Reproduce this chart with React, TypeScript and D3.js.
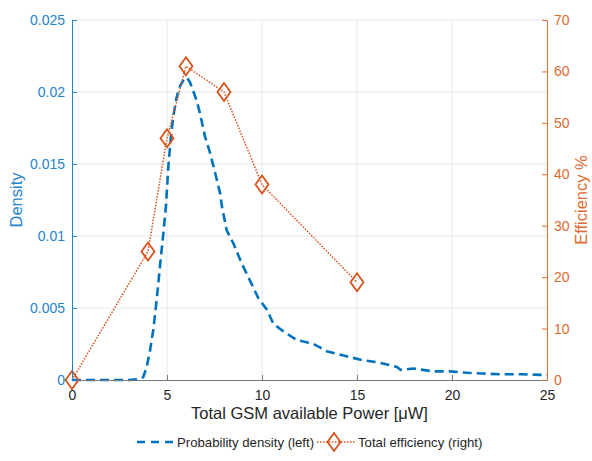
import React, { useRef, useEffect } from 'react';
import * as d3 from 'd3';

// Probability density of available power (left axis)
const densityX = [0, 1, 2, 3, 3.5, 3.75, 3.93, 4.1, 4.28, 4.46, 4.63, 4.81, 4.95, 5.07, 5.2, 5.33, 5.5, 5.68, 5.9, 6.05, 6.2, 6.4, 6.56, 6.74, 7.0, 7.26, 7.53, 7.79, 7.9, 8.14, 8.49, 8.93, 9.37, 9.8, 10.25, 10.6, 11.1, 11.8, 12.4, 12.7, 13.0, 13.4, 14.3, 15.2, 16.2, 17.1, 17.3, 17.95, 19.0, 19.9, 20.8, 21.6, 22.5, 23.7, 24.8, 25];
const densityY = [0, 0, 0, 0, 0.00005, 0.0002, 0.0009, 0.002, 0.0035, 0.0056, 0.0079, 0.0102, 0.0122, 0.0148, 0.0168, 0.0183, 0.0196, 0.0204, 0.0209, 0.0210, 0.0207, 0.0200, 0.0194, 0.0185, 0.0169, 0.0158, 0.0144, 0.0130, 0.0120, 0.0104, 0.0095, 0.0081, 0.0069, 0.0057, 0.0049, 0.0039, 0.0034, 0.0028, 0.0026, 0.0025, 0.0023, 0.0020, 0.0017, 0.0014, 0.0012, 0.0009, 0.0007, 0.0008, 0.0006, 0.0006, 0.0005, 0.00045, 0.0004, 0.0004, 0.00035, 0.00035];

// Total efficiency (right axis)
const effX = [0, 4, 5, 6, 8, 10, 15];
const effY = [0, 25, 47, 61, 56, 38, 19];

const xTicks = [0, 5, 10, 15, 20, 25];
const leftTicks = [0, 0.005, 0.01, 0.015, 0.02, 0.025];
const rightTicks = [0, 10, 20, 30, 40, 50, 60, 70];

const W = 592;
const H = 461;
const BLUE_AXIS = '#1f84cc';
const BLUE_LINE = '#0072BD';
const ORANGE = '#D95319';
const ORANGE_AXIS = '#e06a30';
const TEXT = '#262626';
const FONT = '"Liberation Sans", Arial, sans-serif';

const App = () => {
    const svgRef = useRef<SVGSVGElement | null>(null);

    useEffect(() => {
        const svg = d3.select(svgRef.current);
        svg.selectAll('*').remove();

        const left = 72, right = 547, top = 20, bottom = 380;

        const x = d3.scaleLinear().domain([0, 25]).range([left, right]);
        const yL = d3.scaleLinear().domain([0, 0.025]).range([bottom, top]);
        const yR = d3.scaleLinear().domain([0, 70]).range([bottom, top]);

        // grid
        const grid = svg.append('g').attr('stroke', '#e3e9f0').attr('stroke-width', 1);
        xTicks.slice(1, -1).forEach(t => {
            grid.append('line').attr('x1', x(t)).attr('x2', x(t)).attr('y1', top).attr('y2', bottom);
        });
        leftTicks.slice(1).forEach(t => {
            grid.append('line').attr('x1', left).attr('x2', right).attr('y1', yL(t)).attr('y2', yL(t));
        });

        // density curve
        const densityLine = d3.line<number>()
            .x((_, i) => x(densityX[i]))
            .y(d => yL(d));
        svg.append('path')
            .attr('d', densityLine(densityY))
            .attr('fill', 'none')
            .attr('stroke', BLUE_LINE)
            .attr('stroke-width', 2.6)
            .attr('stroke-dasharray', '9,5');

        // efficiency curve
        const effLine = d3.line<number>()
            .x((_, i) => x(effX[i]))
            .y(d => yR(d));
        svg.append('path')
            .attr('d', effLine(effY))
            .attr('fill', 'none')
            .attr('stroke', ORANGE)
            .attr('stroke-width', 1.5)
            .attr('stroke-dasharray', '1.5,1.5');

        const diamond = (cx: number, cy: number) =>
            `M${cx},${cy - 9}L${cx + 6.5},${cy}L${cx},${cy + 9}L${cx - 6.5},${cy}Z`;
        effY.forEach((v, i) => {
            svg.append('path')
                .attr('d', diamond(x(effX[i]), yR(v)))
                .attr('fill', 'none')
                .attr('stroke', ORANGE)
                .attr('stroke-width', 1.8);
        });

        // x axis
        const xAxis = svg.append('g')
            .attr('transform', `translate(0,${bottom})`)
            .call(d3.axisBottom(x).tickValues(xTicks).tickSize(-5).tickPadding(10).tickFormat(d3.format('d')));
        xAxis.select('.domain').attr('stroke', '#7a7a7a');
        xAxis.selectAll('line').attr('stroke', '#7a7a7a');
        xAxis.selectAll('text').attr('fill', TEXT).style('font-size', '14px').style('font-family', FONT);

        // left axis
        const lAxis = svg.append('g')
            .attr('transform', `translate(${left},0)`)
            .call(d3.axisLeft(yL).tickValues(leftTicks).tickSize(-5).tickPadding(7).tickFormat(d => String(+d)));
        lAxis.select('.domain').attr('stroke', BLUE_AXIS);
        lAxis.selectAll('line').attr('stroke', BLUE_AXIS);
        lAxis.selectAll('text').attr('fill', BLUE_AXIS).style('font-size', '14px').style('font-family', FONT);

        // right axis
        const rAxis = svg.append('g')
            .attr('transform', `translate(${right},0)`)
            .call(d3.axisRight(yR).tickValues(rightTicks).tickSize(-5).tickPadding(7).tickFormat(d3.format('d')));
        rAxis.select('.domain').attr('stroke', ORANGE_AXIS);
        rAxis.selectAll('line').attr('stroke', ORANGE_AXIS);
        rAxis.selectAll('text').attr('fill', ORANGE_AXIS).style('font-size', '14px').style('font-family', FONT);

        // axis labels
        svg.append('text')
            .attr('transform', `translate(22,${(top + bottom) / 2}) rotate(-90)`)
            .attr('text-anchor', 'middle')
            .attr('fill', BLUE_AXIS)
            .style('font-size', '16.5px').style('font-family', FONT)
            .text('Density');
        svg.append('text')
            .attr('transform', `translate(587,${(top + bottom) / 2}) rotate(-90)`)
            .attr('text-anchor', 'middle')
            .attr('fill', ORANGE_AXIS)
            .style('font-size', '16.5px').style('font-family', FONT)
            .text('Efficiency %');
        svg.append('text')
            .attr('x', (left + right) / 2)
            .attr('y', 419)
            .attr('text-anchor', 'middle')
            .attr('fill', TEXT)
            .style('font-size', '16.5px').style('font-family', FONT)
            .text('Total GSM available Power [μW]');

        // legend
        const lg = svg.append('g').style('font-size', '13.2px').style('font-family', FONT);
        const ly = 442;
        lg.append('line')
            .attr('x1', 137).attr('x2', 176).attr('y1', ly).attr('y2', ly)
            .attr('stroke', BLUE_LINE).attr('stroke-width', 2.6).attr('stroke-dasharray', '8,6');
        lg.append('text').attr('x', 177).attr('y', ly + 5).attr('fill', TEXT).text('Probability density (left)');
        lg.append('line')
            .attr('x1', 317).attr('x2', 356).attr('y1', ly).attr('y2', ly)
            .attr('stroke', ORANGE).attr('stroke-width', 1.5).attr('stroke-dasharray', '1.5,1.5');
        lg.append('path').attr('d', diamond(334, ly)).attr('fill', 'none').attr('stroke', ORANGE).attr('stroke-width', 1.8);
        lg.append('text').attr('x', 358).attr('y', ly + 5).attr('fill', TEXT).text('Total efficiency (right)');
    }, []);

    return (
        <svg
            ref={svgRef}
            width={W}
            height={H}
            style={{ position: 'absolute', left: 0, top: 0, background: '#fff' }}
        />
    );
};

export default App;
